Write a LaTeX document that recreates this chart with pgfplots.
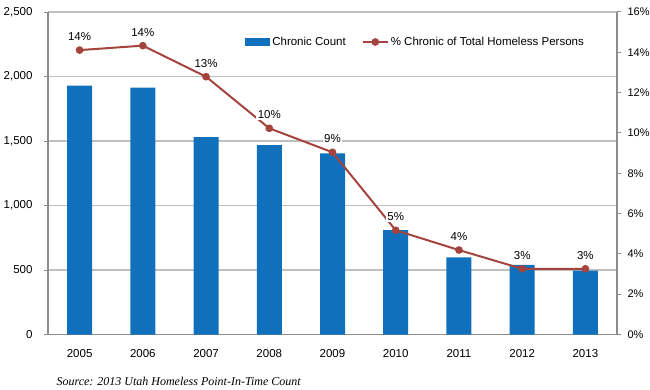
\documentclass[border=0pt]{standalone}
\usepackage{pgfplots}
\pgfplotsset{compat=1.18}
\usepackage{fontspec}
\setmainfont{Liberation Sans}
\newfontfamily\srcfont{Liberation Serif}
\definecolor{barblue}{HTML}{1170BB}
\definecolor{linered}{HTML}{A5443F}
\definecolor{axgray}{HTML}{8C8C8C}
\definecolor{gridgray}{HTML}{BFBFBF}
\begin{document}
\begin{tikzpicture}[x=1pt,y=1pt]
\useasboundingbox (0,0) rectangle (650,389);
\pgfplotsset{
  common/.style={
    scale only axis, width=569pt, height=322.5pt,
    at={(48pt,54.5pt)}, anchor=south west,
    xmin=-0.5, xmax=8.5,
    axis line style={axgray, line width=1.2pt},
    tick style={axgray, line width=1pt},
    tick align=outside,
    major tick length=4pt,
    tick label style={font=\fontsize{11.5}{13}\selectfont},
    /pgf/number format/assume math mode=true,
  }
}
\begin{axis}[common,
  ymin=0, ymax=2500, ytick={0,500,...,2500},
  axis y line*=left, axis x line*=bottom,
  xtick={0,...,8},
  xticklabels={2005,2006,2007,2008,2009,2010,2011,2012,2013},
  x tick style={draw=none},
  minor xtick={-0.5,0.5,...,8.5},
  minor tick length=4pt,
  minor x tick style={axgray, line width=1pt},
  xticklabel style={yshift=-7pt},
  yticklabel style={xshift=-8pt},
  ymajorgrids, grid style={gridgray, line width=1.4pt},
  /pgf/number format/.cd, 1000 sep={,},
]
\addplot[ybar, bar width=25pt, fill=barblue, draw=none] coordinates {
(0,1929) (1,1913) (2,1531) (3,1469) (4,1405) (5,810) (6,598) (7,539) (8,495)};
\end{axis}
\begin{axis}[common,
  ymin=0, ymax=16, ytick={0,2,...,16},
  axis y line*=right, axis x line=none,
  yticklabel={\pgfmathprintnumber{\tick}\%},
  yticklabel style={xshift=3pt, font=\fontsize{11}{13}\selectfont},
  legend style={draw=none, fill=white, at={(0.646,0.907)}, anchor=center,
    legend columns=2, font=\fontsize{11.5}{13}\selectfont,
    /tikz/every even column/.append style={column sep=14pt}},
  legend image code/.code={\draw[#1] (0pt,0pt) -- (25pt,0pt);},
]
\addlegendimage{area legend, fill=barblue, draw=none, legend image code/.code={\fill[barblue] (0pt,-4pt) rectangle (25pt,4pt);}}
\addlegendentry{Chronic Count}
\addplot[linered, line width=2pt, mark=*, mark size=2.8pt, mark options={linered},
  point meta=explicit symbolic,
  nodes near coords,
  every node near coord/.append style={anchor=south, yshift=7pt, fill=white, inner sep=1.5pt, text=black, font=\fontsize{11.5}{13}\selectfont},
  legend image code/.code={\draw[linered, line width=2pt] (0pt,0pt) -- (25pt,0pt); \fill[linered] (12.5pt,0pt) circle (2.8pt);}
] coordinates {
(0,14.11) [14\%]
(1,14.33) [14\%]
(2,12.79) [13\%]
(3,10.23) [10\%]
(4,9.04) [9\%]
(5,5.17) [5\%]
(6,4.19) [4\%]
(7,3.26) [3\%]
(8,3.26) [3\%]
};
\addlegendentry{\% Chronic of Total Homeless Persons}
\end{axis}
\node[anchor=west, font=\srcfont\itshape\fontsize{12}{14}\selectfont] at (53,7.5) {Source: 2013 Utah Homeless Point-In-Time Count};
\end{tikzpicture}
\end{document}
